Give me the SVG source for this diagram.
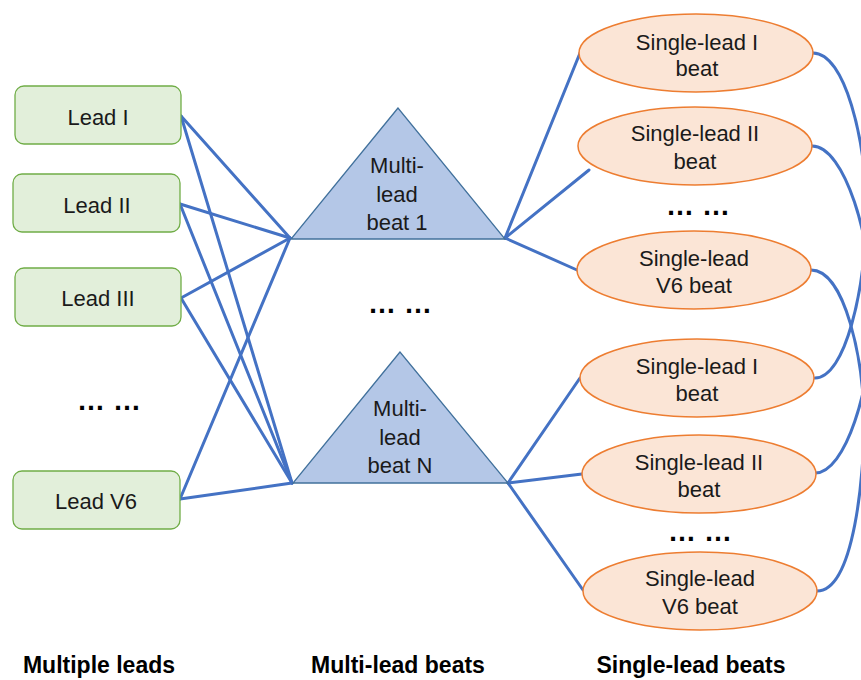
<svg xmlns="http://www.w3.org/2000/svg" width="861" height="680" viewBox="0 0 861 680">
<style>
text{font-family:"Liberation Sans",Arial,sans-serif;font-size:22px;fill:#1a1a1a;text-anchor:middle;dominant-baseline:central}
.lead rect{fill:#e2efda;stroke:#70ad47;stroke-width:1.3}
.tri polygon{fill:#b4c7e7;stroke:#41719c;stroke-width:1.3}
.beat ellipse{fill:#fbe5d6;stroke:#ed7d31;stroke-width:1.5}
.conn path,.conn line{stroke:#4472c4;stroke-width:3;fill:none;stroke-linecap:round}
.lbl{font-weight:bold;font-size:23px;fill:#000}
.dots{font-size:28px;font-weight:bold;fill:#000}
</style>
<g class="conn" id="connectors">
<line x1="181" y1="116" x2="290" y2="238"/>
<line x1="181" y1="116" x2="292" y2="483"/>
<line x1="180" y1="204" x2="290" y2="238"/>
<line x1="180" y1="204" x2="292" y2="483"/>
<line x1="181" y1="298" x2="290" y2="238"/>
<line x1="181" y1="298" x2="292" y2="483"/>
<line x1="180" y1="499" x2="290" y2="238"/>
<line x1="180" y1="499" x2="292" y2="483"/>
<line x1="505" y1="238" x2="580" y2="53"/>
<line x1="505" y1="238" x2="589" y2="170"/>
<line x1="505" y1="238" x2="577" y2="270"/>
<line x1="508" y1="483" x2="580" y2="378"/>
<line x1="508" y1="483" x2="582" y2="474"/>
<line x1="508" y1="483" x2="583" y2="590"/>
<path d="M813,53 C845,53 866,140 866,210 C866,290 845,378 815,378"/>
<path d="M812,146 C845,146 872,240 872,310 C872,390 845,473 815,473"/>
<path d="M811,270 C845,270 864,360 864,425 C864,470 855,591 817,591"/>
</g>
<g class="lead" id="lead-i"><rect x="15" y="86" width="166" height="58" rx="9"/><text x="98" y="117">Lead I</text></g>
<g class="lead" id="lead-ii"><rect x="13" y="174" width="167" height="58" rx="9"/><text x="97" y="205">Lead II</text></g>
<g class="lead" id="lead-iii"><rect x="15" y="268" width="166" height="58" rx="9"/><text x="98" y="298">Lead III</text></g>
<g class="lead" id="lead-v6"><rect x="13" y="471" width="167" height="58" rx="9"/><text x="96" y="501">Lead V6</text></g>
<text class="dots" x="109" y="400">… …</text>
<g class="tri" id="multi-beat-1"><polygon points="398,108 291,239 505,239"/><text x="397" y="165">Multi-</text><text x="397" y="194">lead</text><text x="397" y="222">beat 1</text></g>
<text class="dots" x="400" y="303">… …</text>
<g class="tri" id="multi-beat-n"><polygon points="400,352 293,483 508,483"/><text x="400" y="408">Multi-</text><text x="400" y="437">lead</text><text x="400" y="465">beat N</text></g>
<g class="beat" id="s1"><ellipse cx="696" cy="53" rx="117" ry="39"/><text x="697" y="42">Single-lead I</text><text x="697" y="68">beat</text></g>
<g class="beat" id="s2"><ellipse cx="695" cy="146" rx="117" ry="39"/><text x="695" y="133">Single-lead II</text><text x="695" y="161">beat</text></g>
<text class="dots" x="698" y="205">… …</text>
<g class="beat" id="s3"><ellipse cx="694" cy="270" rx="117" ry="39"/><text x="694" y="258">Single-lead</text><text x="694" y="285">V6 beat</text></g>
<g class="beat" id="s4"><ellipse cx="697" cy="378" rx="117" ry="39"/><text x="697" y="366">Single-lead I</text><text x="697" y="393">beat</text></g>
<g class="beat" id="s5"><ellipse cx="699" cy="474" rx="117" ry="39"/><text x="699" y="462">Single-lead II</text><text x="699" y="489">beat</text></g>
<text class="dots" x="700" y="531">… …</text>
<g class="beat" id="s6"><ellipse cx="700" cy="591" rx="117" ry="39"/><text x="700" y="578">Single-lead</text><text x="700" y="606">V6 beat</text></g>
<text class="lbl" x="99" y="665">Multiple leads</text>
<text class="lbl" x="398" y="665">Multi-lead beats</text>
<text class="lbl" x="691" y="665">Single-lead beats</text>
</svg>
